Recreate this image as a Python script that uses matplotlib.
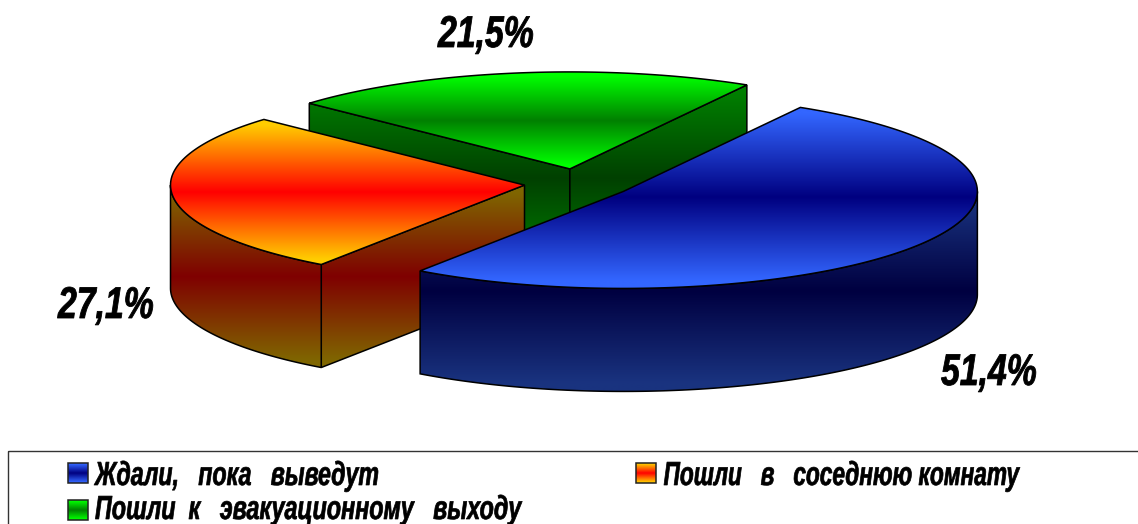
import numpy as np
import matplotlib
matplotlib.use('Agg')
import matplotlib.pyplot as plt
import matplotlib.patheffects as pe
from matplotlib.patches import Polygon, Rectangle
from matplotlib.transforms import Affine2D

# slices, drawn back to front
labels = ['Пошли  к   эвакуационному   выходу', 'Пошли   в   соседнюю комнату', 'Ждали,   пока   выведут']
shares = [21.5, 27.1, 51.4]
share_text = ['21,5%', '27,1%', '51,4%']
light_colors = [(0, 255, 0), (255, 204, 0), (51, 102, 255)]
dark_colors = [(0, 128, 0), (255, 0, 0), (0, 0, 128)]

# pie geometry in pixels of the picture
cx, cy = 578, 183.5
rx, ry = 354, 97
depth = 103
explode = 0.152
first_angle = 60    # the big slice starts here and runs clockwise


class SqueezeX(pe.AbstractPathEffect):
    # the original text is narrower than any installed font
    def __init__(self, factor, anchor, stroke=0.0):
        super().__init__()
        self.factor = factor
        self.anchor = anchor
        self.stroke = stroke

    def draw_path(self, renderer, gc, tpath, affine, rgbFace=None):
        squeeze = Affine2D().translate(-self.anchor, 0).scale(self.factor, 1).translate(self.anchor, 0)
        gc0 = renderer.new_gc()
        gc0.copy_properties(gc)
        gc0.set_linewidth(self.stroke)
        gc0.set_foreground('black')
        renderer.draw_path(gc0, tpath, affine + squeeze, rgbFace)
        gc0.restore()


def gradient(color_end, color_mid, n=256):
    t = np.minimum(np.abs(np.linspace(-1, 1, n)) / 0.92, 1)[:, None, None]
    return (np.array(color_mid)[None, None, :] * (1 - t) + np.array(color_end)[None, None, :] * t) / 255.0


def fill_polys(ax, polys, end, mid, z):
    # one vertical gradient across the box of all the polygons
    pts = np.vstack(polys)
    y0, y1 = pts[:, 1].min(), pts[:, 1].max()
    x0, x1 = pts[:, 0].min(), pts[:, 0].max()
    for p in polys:
        im = ax.imshow(gradient(end, mid), extent=(x0, x1, y1, y0), aspect='auto',
                       interpolation='bilinear', zorder=z)
        im.set_clip_path(Polygon(p, closed=True, transform=ax.transData))
        ax.add_patch(Polygon(p, closed=True, fill=False, ec='black', lw=1.1, zorder=z + 0.5))
        z += 1
    return z


def arc(x, y, t1, t2, dz=0, n=200):
    t = np.radians(np.linspace(t1, t2, n))
    return np.column_stack([x + rx * np.cos(t), y - ry * np.sin(t) + dz])


def radial_face(x, y, angle):
    edge = arc(x, y, angle, angle, n=1)[0]
    return np.array([(x, y), edge, edge + (0, depth), (x, y + depth)])


def draw_slice(ax, start, sweep, end_color, mid_color, z):
    end = start - sweep
    middle = np.radians(start - sweep / 2)
    x = cx + explode * rx * np.cos(middle)
    y = cy - explode * ry * np.sin(middle)

    sides = []
    if np.cos(np.radians(start)) < 0:
        sides.append(radial_face(x, y, start))
    if np.cos(np.radians(end)) > 0:
        sides.append(radial_face(x, y, end))

    # front part of the rim, where sin(angle) is negative
    for k in (-360, 0):
        f1, f2 = min(start, 360 + k), max(end, 180 + k)
        if f1 > f2:
            sides.append(np.vstack([arc(x, y, f1, f2), arc(x, y, f2, f1, dz=depth)]))

    z = fill_polys(ax, sides, [c * 0.5 for c in end_color], [c * 0.5 for c in mid_color], z)
    face = np.vstack([[(x, y)], arc(x, y, start, end)])
    return fill_polys(ax, [face], end_color, mid_color, z)


fig = plt.figure(figsize=(11.38, 5.24), dpi=100)
ax = fig.add_axes([0, 0, 1, 1])

sweeps = [360 * s / 100 for s in shares]
starts = [first_angle + sweeps[0], first_angle + sweeps[0] + sweeps[1], first_angle]
z = 1
for i in range(3):
    z = draw_slice(ax, starts[i], sweeps[i], light_colors[i], dark_colors[i], z)

font = dict(family='Liberation Sans', style='italic', weight='bold', color='black', va='baseline', zorder=100)

# percent labels
label_x = [438, 58, 941]
label_y = [47, 318, 385]
for s, x, y in zip(share_text, label_x, label_y):
    ax.text(x, y, s, fontsize=32, path_effects=[SqueezeX(0.76, x, 0.6)], **font)

# legend box runs off the picture on the right and at the bottom
ax.add_patch(Rectangle((8, 451), 1200, 120, fill=False, ec='#333333', lw=1, zorder=90))
# slice: handle x, handle y, text x, baseline, alignment, squeeze
legend_pos = {2: (68, 463, 95, 485, 'left', 0.695),
              1: (636, 463, 841.5, 485, 'center', 0.68),
              0: (68, 500, 95, 519, 'left', 0.70)}
for i, (hx, hy, tx, ty, align, squeeze) in legend_pos.items():
    ax.imshow(gradient(light_colors[i], dark_colors[i]), extent=(hx, hx + 20, hy + 20, hy),
              aspect='auto', interpolation='bilinear', zorder=91)
    ax.add_patch(Rectangle((hx, hy), 20, 20, fill=False, ec='#222222', lw=1.1, zorder=92))
    ax.text(tx, ty, labels[i], fontsize=24, ha=align, path_effects=[SqueezeX(squeeze, tx, 0.5)], **font)

ax.set_xlim(0, 1138)
ax.set_ylim(524, 0)
ax.axis('off')
fig.savefig('out.png', dpi=100, facecolor='white')
